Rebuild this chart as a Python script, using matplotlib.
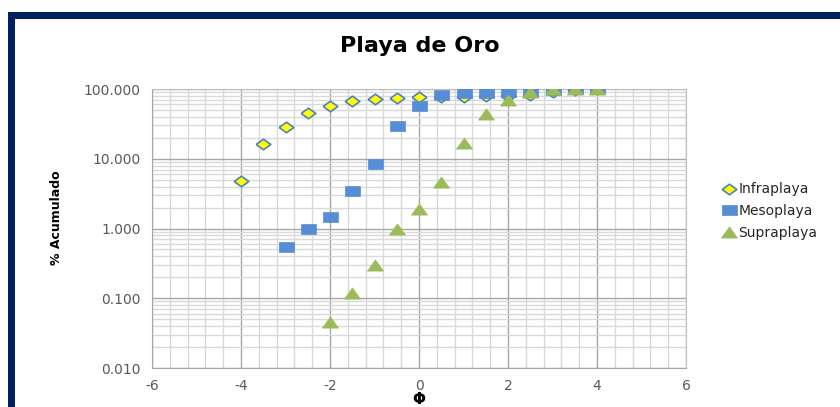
import matplotlib
matplotlib.use("Agg")
import matplotlib.pyplot as plt
from matplotlib.patches import Rectangle
from matplotlib.ticker import MultipleLocator, LogLocator, FormatStrFormatter, NullFormatter

plt.rcParams["axes.unicode_minus"] = False

# ---------------- data ----------------
phi = [-4, -3.5, -3, -2.5, -2, -1.5, -1, -0.5, 0, 0.5, 1, 1.5, 2, 2.5, 3, 3.5, 4]
infraplaya = [4.8, 16.1, 28.2, 46, 57.6, 67, 71, 75, 76, 77, 78, 79, 80, 83, 90, 97, 100]

phi_meso = [-3, -2.5, -2, -1.5, -1, -0.5, 0, 0.5, 1, 1.5, 2, 2.5, 3, 3.5, 4]
mesoplaya = [0.54, 0.975, 1.45, 3.48, 8.3, 29, 57.6, 82, 88.6, 89, 89.5, 91.5, 97, 99, 100]

phi_supra = [-2, -1.5, -1, -0.5, 0, 0.5, 1, 1.5, 2, 2.5, 3, 3.5, 4]
supraplaya = [0.046, 0.12, 0.30, 0.975, 1.88, 4.7, 16.6, 43.8, 69.5, 91.5, 99, 100, 100]

# stretched Excel-style markers
diamond = [(-1, 0), (0, 0.72), (1, 0), (0, -0.72), (-1, 0)]
rect = [(-1, -0.68), (1, -0.68), (1, 0.68), (-1, 0.68), (-1, -0.68)]
tri = [(-1, -0.7), (1, -0.7), (0, 0.7), (-1, -0.7)]

fig = plt.figure(figsize=(8.4, 4.07), dpi=100)
ax = fig.add_axes([152 / 840, 1 - 368 / 407, (686 - 152) / 840, (368 - 89) / 407])

ax.plot(phi, infraplaya, linestyle="none", marker=diamond, ms=10.6,
        mfc="#FFFF00", mec="#4F81BD", mew=1.2, label="Infraplaya", zorder=3)
ax.plot(phi_meso, mesoplaya, linestyle="none", marker=rect, ms=10.8,
        mfc="#558ED5", mec="#558ED5", mew=0.5, label="Mesoplaya", zorder=4)
ax.plot(phi_supra, supraplaya, linestyle="none", marker=tri, ms=11.5,
        mfc="#9BBB59", mec="#9BBB59", mew=0.5, label="Supraplaya", zorder=5)

ax.set_yscale("log")
ax.set_ylim(0.01, 100)
ax.set_xlim(-6, 6)
ax.xaxis.set_major_locator(MultipleLocator(2))
ax.xaxis.set_minor_locator(MultipleLocator(0.4))
ax.yaxis.set_major_locator(LogLocator(base=10, numticks=10))
ax.yaxis.set_minor_locator(LogLocator(base=10, subs=range(2, 10), numticks=20))
ax.yaxis.set_major_formatter(FormatStrFormatter("%.3f"))
ax.yaxis.set_minor_formatter(NullFormatter())

ax.grid(True, which="major", color="#A6A6A6", linewidth=1.0)
ax.grid(True, which="minor", color="#D9D9D9", linewidth=1.0)
ax.set_axisbelow(True)
for s in ax.spines.values():
    s.set_color("#BFBFBF")
ax.spines["left"].set_color("#A6A6A6")
ax.spines["bottom"].set_color("#A6A6A6")

ax.tick_params(which="both", length=0, labelsize=10, labelcolor="#595959", pad=8)

fig.text(0.5, 1 - 46 / 407, "Playa de Oro", ha="center", va="center",
         fontsize=16, fontweight="bold", color="#000000")
fig.text(57 / 840, 1 - 218 / 407, "% Acumulado", rotation=90, ha="center", va="center",
         fontsize=9, fontweight="bold")
fig.text(419 / 840, 1 - 399 / 407, "Φ", ha="center", va="center",
         fontsize=11, fontweight="bold")

leg = ax.legend(loc="center left", bbox_to_anchor=(716 / 840, 1 - 211 / 407),
                bbox_transform=fig.transFigure, frameon=False, fontsize=10,
                handletextpad=0.2, labelspacing=0.55, handlelength=1.0, borderaxespad=0)
for t in leg.get_texts():
    t.set_color("#262626")

# navy frame (top and left only)
fig.patches.append(Rectangle((8 / 840, 1 - 19 / 407), 1, 7 / 407, transform=fig.transFigure,
                             facecolor="#002060", edgecolor="none", zorder=0))
fig.patches.append(Rectangle((8 / 840, 0), 7 / 840, 1 - 12 / 407, transform=fig.transFigure,
                             facecolor="#002060", edgecolor="none", zorder=0))

fig.savefig("out.png", dpi=100)
